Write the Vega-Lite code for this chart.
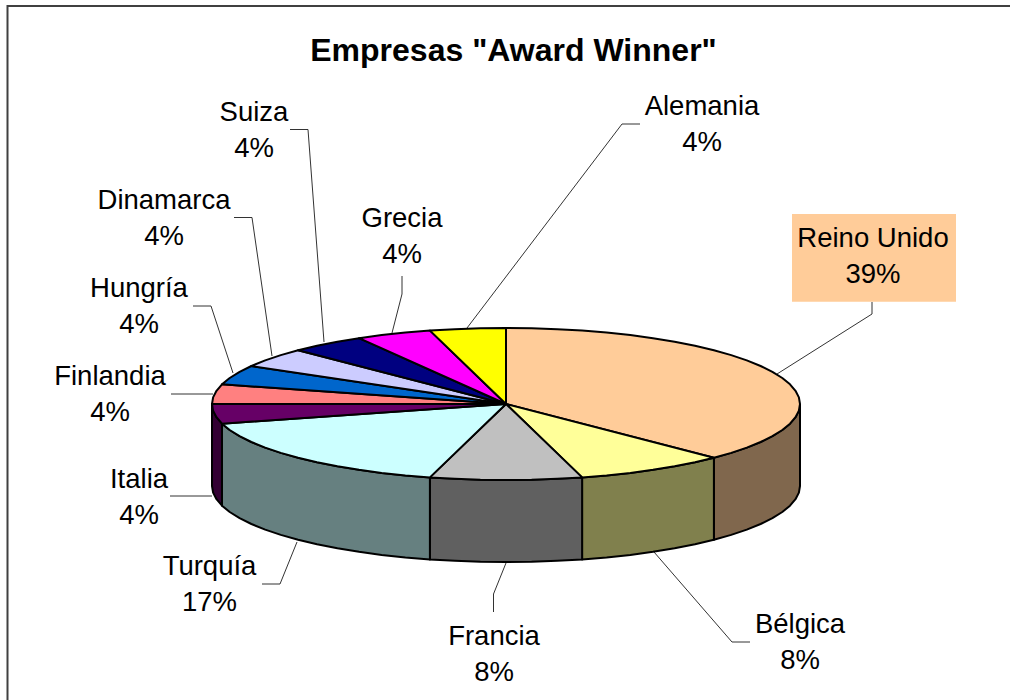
{"$schema":"https://vega.github.io/schema/vega-lite/v6.json","width":1010,"height":700,"padding":0,"autosize":{"type":"none"},"background":"white","config":{"view":{"stroke":null}},
"resolve":{"scale":{"fill":"independent"}},
"datasets":{
"lados":[
{"p":"Reino Unido lado","i":0,"x":800,"y":404},{"p":"Reino Unido lado","i":1,"x":798.9,"y":410.6},{"p":"Reino Unido lado","i":2,"x":795.5,"y":417.2},{"p":"Reino Unido lado","i":3,"x":790,"y":423.7},{"p":"Reino Unido lado","i":4,"x":782.3,"y":430},{"p":"Reino Unido lado","i":5,"x":772.4,"y":436.1},{"p":"Reino Unido lado","i":6,"x":760.6,"y":442},{"p":"Reino Unido lado","i":7,"x":746.8,"y":447.6},{"p":"Reino Unido lado","i":8,"x":731.2,"y":452.9},{"p":"Reino Unido lado","i":9,"x":713.9,"y":457.7},{"p":"Reino Unido lado","i":10,"x":713.9,"y":539.7},{"p":"Reino Unido lado","i":11,"x":731.2,"y":534.9},{"p":"Reino Unido lado","i":12,"x":746.8,"y":529.6},{"p":"Reino Unido lado","i":13,"x":760.6,"y":524},{"p":"Reino Unido lado","i":14,"x":772.4,"y":518.1},{"p":"Reino Unido lado","i":15,"x":782.3,"y":512},{"p":"Reino Unido lado","i":16,"x":790,"y":505.7},{"p":"Reino Unido lado","i":17,"x":795.5,"y":499.2},{"p":"Reino Unido lado","i":18,"x":798.9,"y":492.6},{"p":"Reino Unido lado","i":19,"x":800,"y":486},{"p":"Reino Unido lado","i":20,"x":800,"y":404},
{"p":"Bélgica lado","i":0,"x":713.9,"y":457.7},{"p":"Bélgica lado","i":1,"x":695,"y":462.2},{"p":"Bélgica lado","i":2,"x":674.6,"y":466.3},{"p":"Bélgica lado","i":3,"x":653,"y":469.8},{"p":"Bélgica lado","i":4,"x":630.3,"y":472.9},{"p":"Bélgica lado","i":5,"x":606.6,"y":475.4},{"p":"Bélgica lado","i":6,"x":582.1,"y":477.4},{"p":"Bélgica lado","i":7,"x":582.1,"y":559.4},{"p":"Bélgica lado","i":8,"x":606.6,"y":557.4},{"p":"Bélgica lado","i":9,"x":630.3,"y":554.9},{"p":"Bélgica lado","i":10,"x":653,"y":551.8},{"p":"Bélgica lado","i":11,"x":674.6,"y":548.3},{"p":"Bélgica lado","i":12,"x":695,"y":544.2},{"p":"Bélgica lado","i":13,"x":713.9,"y":539.7},{"p":"Bélgica lado","i":14,"x":713.9,"y":457.7},
{"p":"Francia lado","i":0,"x":582.1,"y":477.4},{"p":"Francia lado","i":1,"x":557.1,"y":478.8},{"p":"Francia lado","i":2,"x":531.6,"y":479.7},{"p":"Francia lado","i":3,"x":506,"y":480},{"p":"Francia lado","i":4,"x":480.4,"y":479.7},{"p":"Francia lado","i":5,"x":454.9,"y":478.8},{"p":"Francia lado","i":6,"x":429.9,"y":477.4},{"p":"Francia lado","i":7,"x":429.9,"y":559.4},{"p":"Francia lado","i":8,"x":454.9,"y":560.8},{"p":"Francia lado","i":9,"x":480.4,"y":561.7},{"p":"Francia lado","i":10,"x":506,"y":562},{"p":"Francia lado","i":11,"x":531.6,"y":561.7},{"p":"Francia lado","i":12,"x":557.1,"y":560.8},{"p":"Francia lado","i":13,"x":582.1,"y":559.4},{"p":"Francia lado","i":14,"x":582.1,"y":477.4},
{"p":"Turquía lado","i":0,"x":429.9,"y":477.4},{"p":"Turquía lado","i":1,"x":405.4,"y":475.4},{"p":"Turquía lado","i":2,"x":381.7,"y":472.9},{"p":"Turquía lado","i":3,"x":359,"y":469.8},{"p":"Turquía lado","i":4,"x":337.4,"y":466.3},{"p":"Turquía lado","i":5,"x":317,"y":462.2},{"p":"Turquía lado","i":6,"x":298.1,"y":457.7},{"p":"Turquía lado","i":7,"x":280.8,"y":452.9},{"p":"Turquía lado","i":8,"x":265.2,"y":447.6},{"p":"Turquía lado","i":9,"x":251.4,"y":442},{"p":"Turquía lado","i":10,"x":239.6,"y":436.1},{"p":"Turquía lado","i":11,"x":229.7,"y":430},{"p":"Turquía lado","i":12,"x":222,"y":423.7},{"p":"Turquía lado","i":13,"x":222,"y":505.7},{"p":"Turquía lado","i":14,"x":229.7,"y":512},{"p":"Turquía lado","i":15,"x":239.6,"y":518.1},{"p":"Turquía lado","i":16,"x":251.4,"y":524},{"p":"Turquía lado","i":17,"x":265.2,"y":529.6},{"p":"Turquía lado","i":18,"x":280.8,"y":534.9},{"p":"Turquía lado","i":19,"x":298.1,"y":539.7},{"p":"Turquía lado","i":20,"x":317,"y":544.2},{"p":"Turquía lado","i":21,"x":337.4,"y":548.3},{"p":"Turquía lado","i":22,"x":359,"y":551.8},{"p":"Turquía lado","i":23,"x":381.7,"y":554.9},{"p":"Turquía lado","i":24,"x":405.4,"y":557.4},{"p":"Turquía lado","i":25,"x":429.9,"y":559.4},{"p":"Turquía lado","i":26,"x":429.9,"y":477.4},
{"p":"Italia lado","i":0,"x":222,"y":423.7},{"p":"Italia lado","i":1,"x":216.5,"y":417.2},{"p":"Italia lado","i":2,"x":213.1,"y":410.6},{"p":"Italia lado","i":3,"x":212,"y":404},{"p":"Italia lado","i":4,"x":212,"y":486},{"p":"Italia lado","i":5,"x":213.1,"y":492.6},{"p":"Italia lado","i":6,"x":216.5,"y":499.2},{"p":"Italia lado","i":7,"x":222,"y":505.7},{"p":"Italia lado","i":8,"x":222,"y":423.7}
],
"tapas":[
{"p":"Reino Unido","i":0,"x":506,"y":404},{"p":"Reino Unido","i":1,"x":506,"y":328},{"p":"Reino Unido","i":2,"x":531.6,"y":328.3},{"p":"Reino Unido","i":3,"x":557.1,"y":329.2},{"p":"Reino Unido","i":4,"x":582.1,"y":330.6},{"p":"Reino Unido","i":5,"x":606.6,"y":332.6},{"p":"Reino Unido","i":6,"x":630.3,"y":335.1},{"p":"Reino Unido","i":7,"x":653,"y":338.2},{"p":"Reino Unido","i":8,"x":674.6,"y":341.7},{"p":"Reino Unido","i":9,"x":695,"y":345.8},{"p":"Reino Unido","i":10,"x":713.9,"y":350.3},{"p":"Reino Unido","i":11,"x":731.2,"y":355.1},{"p":"Reino Unido","i":12,"x":746.8,"y":360.4},{"p":"Reino Unido","i":13,"x":760.6,"y":366},{"p":"Reino Unido","i":14,"x":772.4,"y":371.9},{"p":"Reino Unido","i":15,"x":782.3,"y":378},{"p":"Reino Unido","i":16,"x":790,"y":384.3},{"p":"Reino Unido","i":17,"x":795.5,"y":390.8},{"p":"Reino Unido","i":18,"x":798.9,"y":397.4},{"p":"Reino Unido","i":19,"x":800,"y":404},{"p":"Reino Unido","i":20,"x":798.9,"y":410.6},{"p":"Reino Unido","i":21,"x":795.5,"y":417.2},{"p":"Reino Unido","i":22,"x":790,"y":423.7},{"p":"Reino Unido","i":23,"x":782.3,"y":430},{"p":"Reino Unido","i":24,"x":772.4,"y":436.1},{"p":"Reino Unido","i":25,"x":760.6,"y":442},{"p":"Reino Unido","i":26,"x":746.8,"y":447.6},{"p":"Reino Unido","i":27,"x":731.2,"y":452.9},{"p":"Reino Unido","i":28,"x":713.9,"y":457.7},{"p":"Reino Unido","i":29,"x":506,"y":404},
{"p":"Bélgica","i":0,"x":506,"y":404},{"p":"Bélgica","i":1,"x":713.9,"y":457.7},{"p":"Bélgica","i":2,"x":695,"y":462.2},{"p":"Bélgica","i":3,"x":674.6,"y":466.3},{"p":"Bélgica","i":4,"x":653,"y":469.8},{"p":"Bélgica","i":5,"x":630.3,"y":472.9},{"p":"Bélgica","i":6,"x":606.6,"y":475.4},{"p":"Bélgica","i":7,"x":582.1,"y":477.4},{"p":"Bélgica","i":8,"x":506,"y":404},
{"p":"Francia","i":0,"x":506,"y":404},{"p":"Francia","i":1,"x":582.1,"y":477.4},{"p":"Francia","i":2,"x":557.1,"y":478.8},{"p":"Francia","i":3,"x":531.6,"y":479.7},{"p":"Francia","i":4,"x":506,"y":480},{"p":"Francia","i":5,"x":480.4,"y":479.7},{"p":"Francia","i":6,"x":454.9,"y":478.8},{"p":"Francia","i":7,"x":429.9,"y":477.4},{"p":"Francia","i":8,"x":506,"y":404},
{"p":"Turquía","i":0,"x":506,"y":404},{"p":"Turquía","i":1,"x":429.9,"y":477.4},{"p":"Turquía","i":2,"x":405.4,"y":475.4},{"p":"Turquía","i":3,"x":381.7,"y":472.9},{"p":"Turquía","i":4,"x":359,"y":469.8},{"p":"Turquía","i":5,"x":337.4,"y":466.3},{"p":"Turquía","i":6,"x":317,"y":462.2},{"p":"Turquía","i":7,"x":298.1,"y":457.7},{"p":"Turquía","i":8,"x":280.8,"y":452.9},{"p":"Turquía","i":9,"x":265.2,"y":447.6},{"p":"Turquía","i":10,"x":251.4,"y":442},{"p":"Turquía","i":11,"x":239.6,"y":436.1},{"p":"Turquía","i":12,"x":229.7,"y":430},{"p":"Turquía","i":13,"x":222,"y":423.7},{"p":"Turquía","i":14,"x":506,"y":404},
{"p":"Italia","i":0,"x":506,"y":404},{"p":"Italia","i":1,"x":222,"y":423.7},{"p":"Italia","i":2,"x":216.5,"y":417.2},{"p":"Italia","i":3,"x":213.1,"y":410.6},{"p":"Italia","i":4,"x":212,"y":404},{"p":"Italia","i":5,"x":506,"y":404},
{"p":"Finlandia","i":0,"x":506,"y":404},{"p":"Finlandia","i":1,"x":212,"y":404},{"p":"Finlandia","i":2,"x":213.1,"y":397.4},{"p":"Finlandia","i":3,"x":216.5,"y":390.8},{"p":"Finlandia","i":4,"x":222,"y":384.3},{"p":"Finlandia","i":5,"x":506,"y":404},
{"p":"Hungría","i":0,"x":506,"y":404},{"p":"Hungría","i":1,"x":222,"y":384.3},{"p":"Hungría","i":2,"x":229.7,"y":378},{"p":"Hungría","i":3,"x":239.6,"y":371.9},{"p":"Hungría","i":4,"x":251.4,"y":366},{"p":"Hungría","i":5,"x":506,"y":404},
{"p":"Dinamarca","i":0,"x":506,"y":404},{"p":"Dinamarca","i":1,"x":251.4,"y":366},{"p":"Dinamarca","i":2,"x":265.2,"y":360.4},{"p":"Dinamarca","i":3,"x":280.8,"y":355.1},{"p":"Dinamarca","i":4,"x":298.1,"y":350.3},{"p":"Dinamarca","i":5,"x":506,"y":404},
{"p":"Suiza","i":0,"x":506,"y":404},{"p":"Suiza","i":1,"x":298.1,"y":350.3},{"p":"Suiza","i":2,"x":317,"y":345.8},{"p":"Suiza","i":3,"x":337.4,"y":341.7},{"p":"Suiza","i":4,"x":359,"y":338.2},{"p":"Suiza","i":5,"x":506,"y":404},
{"p":"Grecia","i":0,"x":506,"y":404},{"p":"Grecia","i":1,"x":359,"y":338.2},{"p":"Grecia","i":2,"x":381.7,"y":335.1},{"p":"Grecia","i":3,"x":405.4,"y":332.6},{"p":"Grecia","i":4,"x":430,"y":330.6},{"p":"Grecia","i":5,"x":506,"y":404},
{"p":"Alemania","i":0,"x":506,"y":404},{"p":"Alemania","i":1,"x":430,"y":330.6},{"p":"Alemania","i":2,"x":454.9,"y":329.2},{"p":"Alemania","i":3,"x":480.4,"y":328.3},{"p":"Alemania","i":4,"x":506,"y":328},{"p":"Alemania","i":5,"x":506,"y":404}
],
"guias":[
{"p":"Alemania","i":0,"x":467,"y":328},{"p":"Alemania","i":1,"x":622,"y":124},{"p":"Alemania","i":2,"x":640,"y":124},
{"p":"Reino Unido","i":0,"x":872,"y":302},{"p":"Reino Unido","i":1,"x":872,"y":314},{"p":"Reino Unido","i":2,"x":777,"y":374},
{"p":"Grecia","i":0,"x":402,"y":276},{"p":"Grecia","i":1,"x":402,"y":294},{"p":"Grecia","i":2,"x":392,"y":333},
{"p":"Suiza","i":0,"x":290,"y":129.5},{"p":"Suiza","i":1,"x":308,"y":129.5},{"p":"Suiza","i":2,"x":324,"y":342},
{"p":"Dinamarca","i":0,"x":234,"y":217.5},{"p":"Dinamarca","i":1,"x":252,"y":217.5},{"p":"Dinamarca","i":2,"x":272,"y":356},
{"p":"Hungría","i":0,"x":193,"y":306},{"p":"Hungría","i":1,"x":211,"y":306},{"p":"Hungría","i":2,"x":233,"y":373},
{"p":"Finlandia","i":0,"x":171,"y":394},{"p":"Finlandia","i":1,"x":213,"y":394},
{"p":"Italia","i":0,"x":170,"y":496},{"p":"Italia","i":1,"x":212,"y":496},
{"p":"Turquía","i":0,"x":262,"y":584},{"p":"Turquía","i":1,"x":280,"y":584},{"p":"Turquía","i":2,"x":297,"y":542},
{"p":"Francia","i":0,"x":493.5,"y":612},{"p":"Francia","i":1,"x":493.5,"y":594},{"p":"Francia","i":2,"x":506,"y":563},
{"p":"Bélgica","i":0,"x":654,"y":552},{"p":"Bélgica","i":1,"x":732,"y":642},{"p":"Bélgica","i":2,"x":750,"y":642}
],
"rotulos":[
{"p":"Reino Unido","v":"39%","x":873,"y":247,"y2":283},
{"p":"Bélgica","v":"8%","x":800,"y":633,"y2":669},
{"p":"Francia","v":"8%","x":494,"y":644.5,"y2":680.5},
{"p":"Turquía","v":"17%","x":209.5,"y":575,"y2":611},
{"p":"Italia","v":"4%","x":139,"y":488,"y2":524},
{"p":"Finlandia","v":"4%","x":110,"y":385,"y2":421},
{"p":"Hungría","v":"4%","x":139,"y":297,"y2":333},
{"p":"Dinamarca","v":"4%","x":164,"y":208.5,"y2":245},
{"p":"Suiza","v":"4%","x":254,"y":121,"y2":157},
{"p":"Grecia","v":"4%","x":402,"y":227,"y2":263},
{"p":"Alemania","v":"4%","x":702,"y":115,"y2":151}
]
},
"encoding":{
"x":{"field":"x","type":"quantitative","scale":{"domain":[0,1010],"nice":false,"zero":false},"axis":null},
"y":{"field":"y","type":"quantitative","scale":{"domain":[700,0],"nice":false,"zero":false},"axis":null}
},
"layer":[
{"data":{"values":[{"p":"marco","i":0,"x":7.5,"y":700},{"p":"marco","i":1,"x":7.5,"y":6},{"p":"marco","i":2,"x":1010,"y":6}]},
"mark":{"type":"line","stroke":"#404040","strokeWidth":2,"clip":true},"encoding":{"order":{"field":"i"}}},
{"data":{"values":[{"p":"Reino Unido","x":792,"y":214,"x2":956,"y2":301.7}]},
"mark":{"type":"rect","color":"#FFCC99"},"encoding":{"x2":{"field":"x2"},"y2":{"field":"y2"}}},
{"data":{"name":"guias"},"mark":{"type":"line","stroke":"#333333","strokeWidth":1},"encoding":{"detail":{"field":"p"},"order":{"field":"i"}}},
{"data":{"name":"lados"},"mark":{"type":"line","stroke":"black","strokeWidth":2,"strokeJoin":"round"},
"encoding":{"order":{"field":"i"},"fill":{"field":"p","legend":null,"scale":{"domain":["Reino Unido lado","Bélgica lado","Francia lado","Turquía lado","Italia lado"],"range":["#80674D","#80804D","#606060","#668080","#330033"]}}}},
{"data":{"name":"tapas"},"mark":{"type":"line","stroke":"black","strokeWidth":2,"strokeJoin":"round"},
"encoding":{"order":{"field":"i"},"fill":{"field":"p","legend":null,"scale":{"domain":["Reino Unido","Bélgica","Francia","Turquía","Italia","Finlandia","Hungría","Dinamarca","Suiza","Grecia","Alemania"],"range":["#FFCC99","#FFFF99","#C0C0C0","#CCFFFF","#660066","#FF8080","#0066CC","#CCCCFF","#000080","#FF00FF","#FFFF00"]}}}},
{"data":{"name":"rotulos"},"mark":{"type":"text","font":"Liberation Sans","fontSize":27.5,"baseline":"alphabetic","align":"center","color":"black"},"encoding":{"text":{"field":"p"}}},
{"data":{"name":"rotulos"},"mark":{"type":"text","font":"Liberation Sans","fontSize":27.5,"baseline":"alphabetic","align":"center","color":"black"},"encoding":{"y":{"field":"y2","type":"quantitative"},"text":{"field":"v"}}},
{"data":{"values":[{"t":"Empresas \"Award Winner\"","x":513.5,"y":61}]},"mark":{"type":"text","font":"Liberation Sans","fontWeight":"bold","fontSize":32,"baseline":"alphabetic","align":"center","color":"black"},"encoding":{"text":{"field":"t"}}}
]}
